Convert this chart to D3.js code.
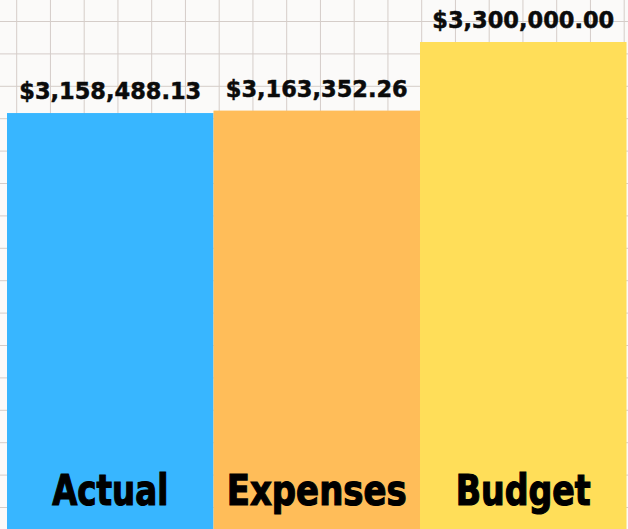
<!DOCTYPE html>
<html>
<head>
<meta charset="utf-8">
<script src="https://cdn.jsdelivr.net/npm/d3@7"></script>
<style>
  html, body { margin: 0; padding: 0; background: #fbfaf9; }
  svg { display: block; }
</style>
</head>
<body>
<svg id="chart" width="628" height="529"></svg>
<script>
// ---- data ----
const categories = ["Actual", "Expenses", "Budget"];
const values = [3158488.13, 3163352.26, 3300000.00];
const valueLabels = ["$3,158,488.13", "$3,163,352.26", "$3,300,000.00"];
const barColors = ["#38b6ff", "#ffbd59", "#ffde59"];

const W = 628, H = 529;
const svg = d3.select("#chart");

svg.append("rect").attr("width", W).attr("height", H).attr("fill", "#fbfaf9");

// decorative grid paper
const gx = d3.range(16.7, W, 33.75);
const gy = d3.range(21.5, H, 32.4);
const grid = svg.append("g").attr("stroke", "#d5cdc9").attr("stroke-width", 1);
grid.selectAll("line.v").data(gx).join("line").attr("class", "v")
  .attr("x1", d => d).attr("x2", d => d).attr("y1", 0).attr("y2", H);
grid.selectAll("line.h").data(gy).join("line").attr("class", "h")
  .attr("y1", d => d).attr("y2", d => d).attr("x1", 0).attr("x2", W);

// scales (truncated value axis)
const x = d3.scaleBand().domain(categories).range([7, 626.5]).padding(0);
const y = d3.scaleLinear().domain([2330000, 3300000]).range([H, 42]);

const rows = categories.map((c, i) => ({ c, v: values[i], label: valueLabels[i], color: barColors[i] }));

svg.append("g").selectAll("rect").data(rows).join("rect")
  .attr("x", d => x(d.c))
  .attr("y", d => y(d.v))
  .attr("width", x.bandwidth())
  .attr("height", d => H - y(d.v))
  .attr("fill", d => d.color);

// value labels
svg.append("g").selectAll("text").data(rows).join("text")
  .attr("x", d => x(d.c) + x.bandwidth() / 2)
  .attr("y", d => y(d.v) - 14)
  .attr("text-anchor", "middle")
  .attr("font-family", "DejaVu Sans, sans-serif")
  .attr("font-weight", "bold")
  .attr("font-size", 23)
  .attr("textLength", 182)
  .attr("lengthAdjust", "spacingAndGlyphs")
  .attr("fill", "#0b0b0b")
  .attr("stroke", "#0b0b0b")
  .attr("stroke-width", 0.5)
  .text(d => d.label);

// category labels inside bars
const catWidths = { Actual: 116, Expenses: 180, Budget: 135 };
svg.append("g").selectAll("text").data(rows).join("text")
  .attr("x", d => x(d.c) + x.bandwidth() / 2)
  .attr("y", 505)
  .attr("text-anchor", "middle")
  .attr("font-family", "Liberation Sans Narrow, DejaVu Sans Condensed, sans-serif")
  .attr("font-weight", "bold")
  .attr("font-size", 43)
  .attr("textLength", d => catWidths[d.c])
  .attr("lengthAdjust", "spacingAndGlyphs")
  .attr("fill", "#000")
  .attr("stroke", "#000")
  .attr("stroke-width", 1.2)
  .text(d => d.c);
</script>
</body>
</html>
